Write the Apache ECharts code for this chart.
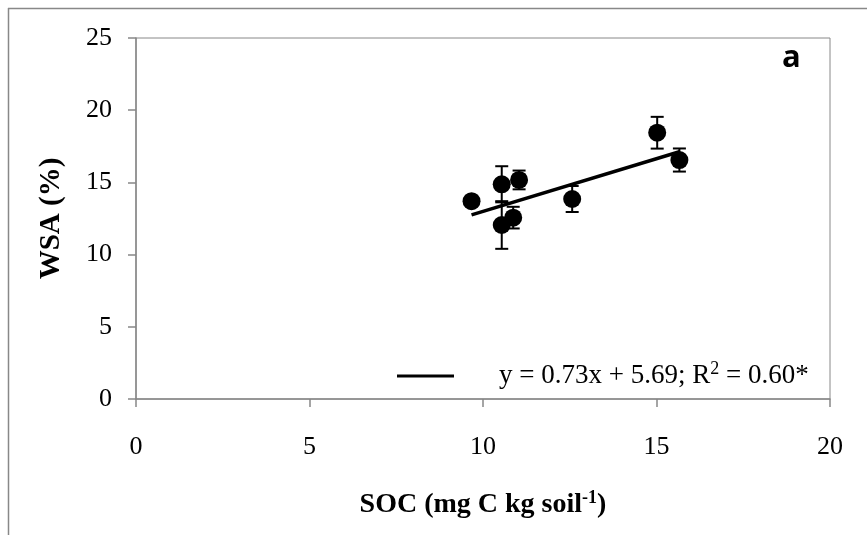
<!DOCTYPE html>
<html>
<head>
<meta charset="utf-8">
<script src="https://cdn.jsdelivr.net/npm/echarts@6/dist/echarts.min.js"></script>
<style>
  html, body { margin: 0; padding: 0; background: #fff; }
  #chart { width: 867px; height: 535px; }
</style>
</head>
<body>
<div id="chart"></div>
<script>
// SOC vs WSA
const soc = [9.67, 10.54, 11.04, 10.54, 10.87, 12.57, 15.02, 15.66];
const wsa = [13.7, 14.87, 15.17, 12.05, 12.56, 13.85, 18.44, 16.55];
const wsaErr = [0.3, 1.25, 0.65, 1.65, 0.75, 0.9, 1.1, 0.8];

// fitted line y = 0.73x + 5.69 over the data range
const slope = 0.73;
const intercept = 5.69;
const fitX = [Math.min(...soc), Math.max(...soc)];
const fitLabel = 'y = 0.73x + 5.69; R{sup|2} = 0.60*';

const axisGrey = '#888888';
const serif = '"Liberation Serif", "DejaVu Serif", serif';

const chart = echarts.init(document.getElementById('chart'));

chart.setOption({
  animation: false,
  grid: { left: 136, right: 37, top: 38, bottom: 136, show: true, borderColor: axisGrey, borderWidth: 1 },
  xAxis: {
    type: 'value', min: 0, max: 20, interval: 5,
    axisLine: { lineStyle: { color: axisGrey, width: 1.5 } },
    axisTick: { show: true, length: 8, lineStyle: { color: axisGrey, width: 1.5 } },
    axisLabel: { color: '#000', fontFamily: serif, fontSize: 26, margin: 35 },
    splitLine: { show: false },
    name: 'SOC (mg C kg soil{sup|-1})',
    nameLocation: 'middle', nameGap: 90,
    nameTextStyle: {
      color: '#000', fontFamily: serif, fontSize: 28, fontWeight: 'bold',
      rich: { sup: { fontFamily: serif, fontSize: 18, fontWeight: 'bold', verticalAlign: 'top', padding: [0, 0, 14, 0] } }
    }
  },
  yAxis: {
    type: 'value', min: 0, max: 25, interval: 5,
    axisLine: { show: true, lineStyle: { color: axisGrey, width: 1.5 } },
    axisTick: { show: true, length: 8, lineStyle: { color: axisGrey, width: 1.5 } },
    axisLabel: { color: '#000', fontFamily: serif, fontSize: 26, margin: 24 },
    splitLine: { show: false },
    name: 'WSA (%)',
    nameLocation: 'middle', nameGap: 70,
    nameTextStyle: { color: '#000', fontFamily: serif, fontSize: 29, fontWeight: 'bold' }
  },
  legend: {
    data: ['fit'],
    left: 392, top: 355,
    icon: 'rect',
    itemWidth: 57, itemHeight: 3,
    formatter: () => fitLabel,
    textStyle: {
      color: '#000', fontFamily: serif, fontSize: 27,
      padding: [0, 0, 0, 40],
      rich: { sup: { fontFamily: serif, fontSize: 18, verticalAlign: 'top', padding: [0, 0, 14, 0] } }
    }
  },
  graphic: [
    { type: 'line', shape: { x1: 8, y1: 8.5, x2: 867, y2: 8.5 }, style: { stroke: axisGrey, lineWidth: 1.5 } },
    { type: 'line', shape: { x1: 8.5, y1: 8, x2: 8.5, y2: 535 }, style: { stroke: axisGrey, lineWidth: 1.5 } },
    { type: 'text', left: 782, top: 43, style: { text: 'a', fill: '#000', font: 'bold 31px "Open Sans", "Liberation Sans", sans-serif' } }
  ],
  series: [
    {
      type: 'custom',
      data: soc.map((x, i) => [x, wsa[i] - wsaErr[i], wsa[i] + wsaErr[i]]),
      renderItem: (params, api) => {
        const lo = api.coord([api.value(0), api.value(1)]);
        const hi = api.coord([api.value(0), api.value(2)]);
        const cap = 6.5;
        const style = { stroke: '#000', lineWidth: 2 };
        return {
          type: 'group',
          children: [
            { type: 'line', shape: { x1: lo[0], y1: lo[1], x2: hi[0], y2: hi[1] }, style },
            { type: 'line', shape: { x1: lo[0] - cap, y1: lo[1], x2: lo[0] + cap, y2: lo[1] }, style },
            { type: 'line', shape: { x1: hi[0] - cap, y1: hi[1], x2: hi[0] + cap, y2: hi[1] }, style }
          ]
        };
      },
      z: 1
    },
    {
      type: 'scatter',
      data: soc.map((x, i) => [x, wsa[i]]),
      symbol: 'circle', symbolSize: 18,
      itemStyle: { color: '#000', opacity: 1 },
      z: 2
    },
    {
      name: 'fit',
      type: 'line',
      data: fitX.map((x) => [x, slope * x + intercept]),
      symbol: 'none',
      lineStyle: { color: '#000', width: 3.5 },
      itemStyle: { color: '#000' },
      z: 3
    }
  ]
});
</script>
</body>
</html>
